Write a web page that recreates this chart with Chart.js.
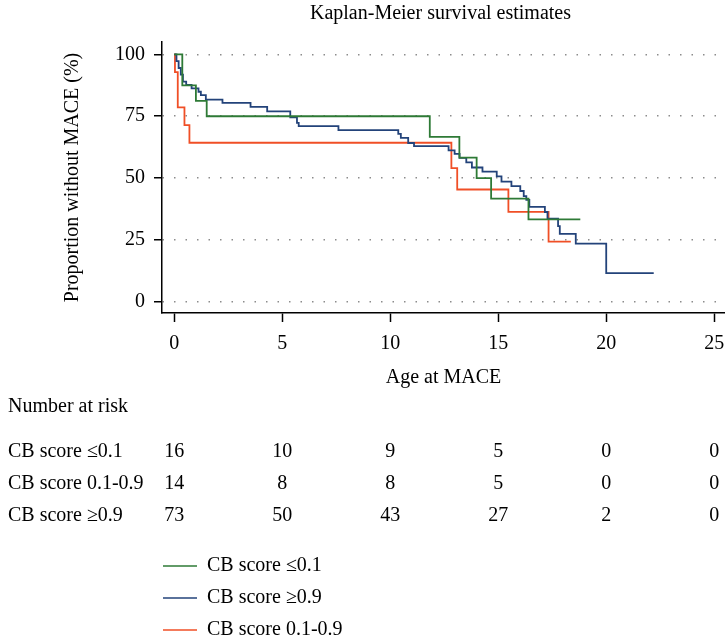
<!DOCTYPE html>
<html>
<head>
<meta charset="utf-8">
<script src="https://cdn.jsdelivr.net/npm/chart.js@4.4.1/dist/chart.umd.min.js"></script>
<style>
html, body { margin: 0; padding: 0; background: #fff; }
#km { display: block; }
</style>
</head>
<body>
<canvas id="km" width="725" height="642"></canvas>
<script>
// survival curves (time in years, survival in %)
var lowTimes = [0, 0.37, 1.0, 1.5, 11.83, 13.2, 14.0, 14.67, 16.4, 18.8]
var lowSurv = [100, 87.5, 81.25, 75, 66.7, 58.3, 50, 41.7, 33.3, 33.3]

var highTimes = [0, 0.1, 0.2, 0.3, 0.4, 0.55, 0.8, 1.12, 1.23, 1.46, 2.23, 3.53, 4.3, 5.37, 5.68, 5.76,
    7.6, 10.37, 10.49, 10.83, 11.1, 12.7, 12.98, 13.21, 13.52, 13.78, 14.27, 14.93, 15.15, 15.61,
    16.02, 16.18, 16.3, 16.44, 17.16, 17.28, 17.77, 17.85, 18.59, 20.0, 22.2]
var highSurv = [100, 97.3, 94.5, 91.8, 89.0, 87.7, 86.3, 84.9, 83.5, 81.7, 80.4, 78.8, 77.0, 74.6, 72.3, 71.0,
    69.4, 67.9, 66.3, 64.2, 62.9, 61.2, 59.8, 58.2, 56.4, 54.3, 52.6, 50.7, 48.6, 46.8,
    44.8, 42.7, 41.2, 38.4, 36.3, 33.6, 30.6, 27.5, 23.5, 11.6, 11.6]

var midTimes = [0, 0.03, 0.16, 0.47, 0.7, 12.83, 13.1, 15.47, 17.33, 18.36]
var midSurv = [100, 92.86, 78.57, 71.43, 64.29, 54.0, 45.4, 36.4, 24.3, 24.3]

var xTicks = [0, 5, 10, 15, 20, 25]
var yTicks = [0, 25, 50, 75, 100]

// number at risk table
var riskTimes = [0, 5, 10, 15, 20, 25]
var riskLabels = ['CB score \u22640.1', 'CB score 0.1-0.9', 'CB score \u22650.9']
var riskLow = [16, 10, 9, 5, 0, 0]
var riskMid = [14, 8, 8, 5, 0, 0]
var riskHigh = [73, 50, 43, 27, 2, 0]

var serif = '"Liberation Serif", "Times New Roman", serif'

function pts(ts, ss) {
    return ts.map(function (t, i) { return { x: t, y: ss[i] } })
}

var extras = {
    id: 'extras',
    afterDraw: function (chart) {
        var ctx = chart.ctx
        var xs = chart.scales.x
        var area = chart.chartArea
        ctx.save()
        ctx.fillStyle = '#000'
        ctx.font = '20px ' + serif
        ctx.textBaseline = 'middle'

        ctx.textAlign = 'center'
        ctx.fillText('Kaplan-Meier survival estimates', (area.left + area.right) / 2 - 3, 14)

        ctx.textAlign = 'left'
        ctx.fillText('Number at risk', 8, 407)
        var rows = [riskLow, riskMid, riskHigh]
        rows.forEach(function (row, i) {
            var y = 452 + i * 32
            ctx.textAlign = 'left'
            ctx.fillText(riskLabels[i], 8, y)
            ctx.textAlign = 'center'
            row.forEach(function (n, j) {
                ctx.fillText(String(n), xs.getPixelForValue(riskTimes[j]), y)
            })
        })

        // legend
        chart.data.datasets.forEach(function (ds, i) {
            var y = 566 + i * 32
            ctx.strokeStyle = ds.borderColor
            ctx.lineWidth = 1.5
            ctx.beginPath()
            ctx.moveTo(163, y)
            ctx.lineTo(197, y)
            ctx.stroke()
            ctx.textAlign = 'left'
            ctx.fillText(ds.label, 207, y)
        })
        ctx.restore()
    }
}

var config = {
    type: 'scatter',
    data: {
        datasets: [
            { label: 'CB score \u22640.1', data: pts(lowTimes, lowSurv), borderColor: '#2e7a36' },
            { label: 'CB score \u22650.9', data: pts(highTimes, highSurv), borderColor: '#23437a' },
            { label: 'CB score 0.1-0.9', data: pts(midTimes, midSurv), borderColor: '#f04f26' }
        ]
    },
    options: {
        responsive: false,
        animation: false,
        events: [],
        layout: { padding: { top: 42, right: 0, left: 0, bottom: 252 } },
        datasets: {
            scatter: { showLine: true, stepped: 'before', pointRadius: 0, borderWidth: 1.8, fill: false }
        },
        plugins: { legend: { display: false }, tooltip: { enabled: false } },
        scales: {
            x: {
                type: 'linear',
                min: -0.57,
                max: 25.5,
                afterBuildTicks: function (s) { s.ticks = xTicks.map(function (v) { return { value: v } }) },
                afterFit: function (s) { s.height = 77; s.paddingLeft = 0; s.paddingRight = 0 },
                grid: { drawOnChartArea: false, tickLength: 9, tickColor: '#000', tickWidth: 1.5 },
                border: { display: true, color: '#000', width: 1.5 },
                ticks: { color: '#000', font: { family: serif, size: 20 }, padding: 10, maxRotation: 0 },
                title: { display: true, text: 'Age at MACE', color: '#000', font: { family: serif, size: 20 }, padding: { top: 0, bottom: 0 } }
            },
            y: {
                type: 'linear',
                min: -4.5,
                max: 105,
                afterBuildTicks: function (s) { s.ticks = yTicks.map(function (v) { return { value: v } }) },
                afterFit: function (s) { s.width = 162 },
                grid: {
                    color: '#8c8c8c', lineWidth: 1.5,
                    tickLength: 8, tickColor: '#000', tickWidth: 1.5, tickBorderDash: []
                },
                border: { display: true, color: '#000', width: 1.5, dash: [1.5, 10] },
                ticks: { color: '#000', font: { family: serif, size: 20 }, padding: 9 },
                title: { display: true, text: 'Proportion without MACE (%)', color: '#000', font: { family: serif, size: 20 }, padding: { top: 61, bottom: 0 } }
            }
        }
    },
    plugins: [extras]
}

var km = new Chart(document.getElementById('km'), config)
</script>
</body>
</html>
